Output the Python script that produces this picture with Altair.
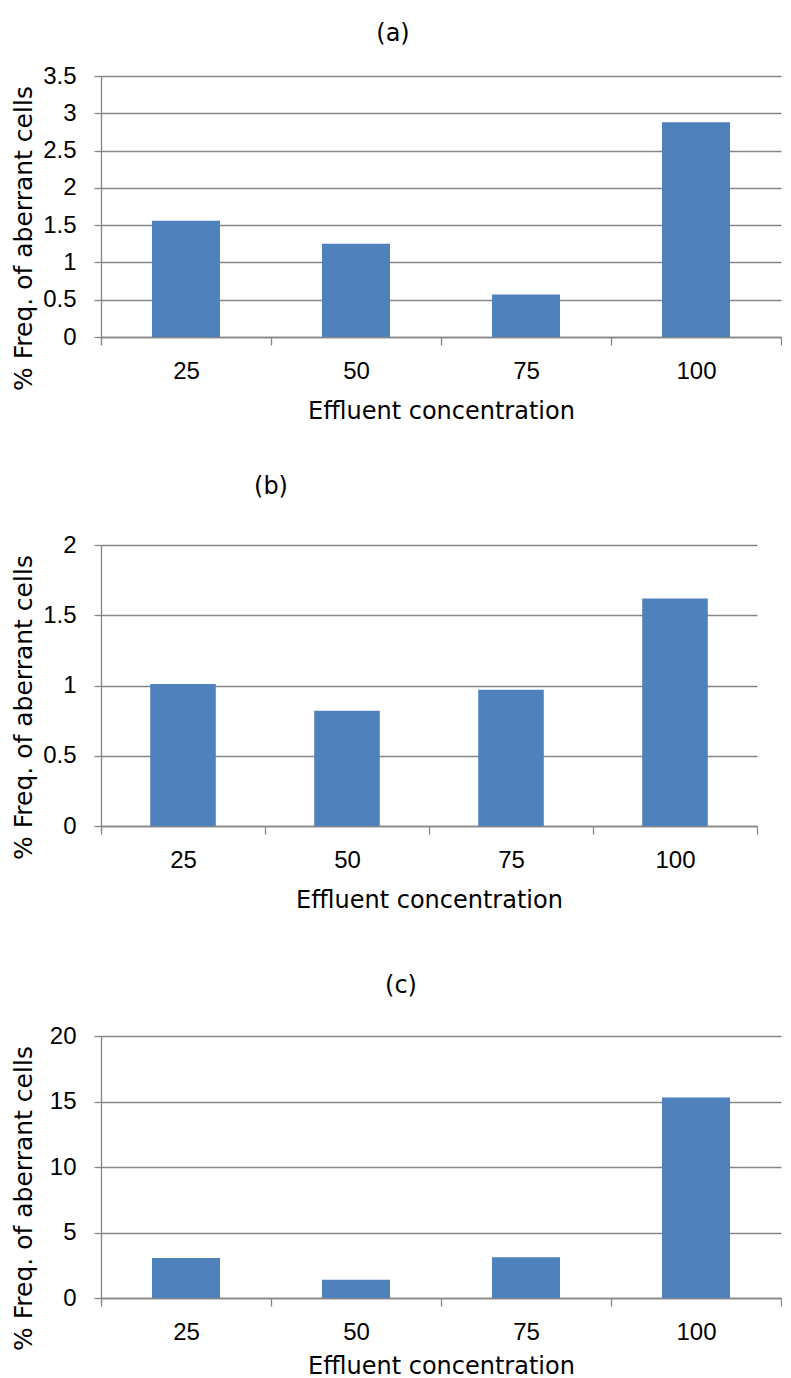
import altair as alt
import pandas as pd

concentrations = ["25", "50", "75", "100"]
freq_a = [1.56, 1.25, 0.57, 2.88]
freq_b = [1.01, 0.82, 0.97, 1.62]
freq_c = [3.05, 1.40, 3.12, 15.30]
ticks_a = [0, 0.5, 1, 1.5, 2, 2.5, 3, 3.5]
ticks_b = [0, 0.5, 1, 1.5, 2]
ticks_c = [0, 5, 10, 15, 20]

GRAY = "#868686"
BLUE = "#4F81BD"
TXT = "DejaVu Sans"
NUM = "Liberation Sans Narrow, Liberation Sans"


def panel(label, vals, ticks, width, height, title_dx, title_offset, xtitle_y):
    df = pd.DataFrame({"conc": concentrations, "freq": vals})
    return alt.Chart(df).mark_bar(color=BLUE, width=alt.RelativeBandSize(0.4)).encode(
        x=alt.X(
            "conc:N", sort=concentrations,
            scale=alt.Scale(paddingInner=0, paddingOuter=0),
            axis=alt.Axis(
                title="Effluent concentration", labelAngle=0, tickBand="extent",
                grid=False, domainColor=GRAY, domainWidth=1.3, tickColor=GRAY,
                tickWidth=1.3, tickSize=8, labelFont=NUM, labelFontSize=24,
                labelColor="black", labelBaseline="alphabetic", labelPadding=33,
                titleFont=TXT, titleFontSize=24, titleFontWeight="normal",
                titleColor="black", titleBaseline="alphabetic", titleY=xtitle_y,
            ),
        ),
        y=alt.Y(
            "freq:Q",
            scale=alt.Scale(domain=[ticks[0], ticks[-1]], nice=False),
            axis=alt.Axis(
                title="% Freq. of aberrant cells", values=ticks, format="~g",
                grid=True, gridColor=GRAY, gridWidth=1.3, domainColor=GRAY,
                domainWidth=1.3, tickColor=GRAY, tickWidth=1.3, tickSize=7,
                labelFont=NUM, labelFontSize=24, labelColor="black",
                labelPadding=18, titleFont=TXT, titleFontSize=25,
                titleFontWeight="normal", titleColor="black",
                titleAngle=270, titleAlign="center", titleBaseline="alphabetic",
                titleX=-70, titleY=162,
            ),
        ),
    ).properties(
        width=width, height=height,
        title=alt.TitleParams(
            text=label, font=TXT, fontSize=24, fontWeight="normal",
            color="black", anchor="middle", dx=title_dx, offset=title_offset,
            baseline="bottom",
        ),
    )


pa = panel("(a)", freq_a, ticks_a, 680, 261, -48, -6, 81)
pb = panel("(b)", freq_b, ticks_b, 656, 281, -158, 10, 81)
pc = panel("(c)", freq_c, ticks_c, 680, 262, -40, 2, 75)

top = alt.vconcat(pa, pb, spacing=52)
chart = alt.vconcat(top, pc, spacing=62).properties(
    padding={"left": 2, "top": 14, "right": 0, "bottom": 0}
).configure_view(stroke=None)

chart.save("out.html", embed_options={"renderer": "svg", "actions": False})
